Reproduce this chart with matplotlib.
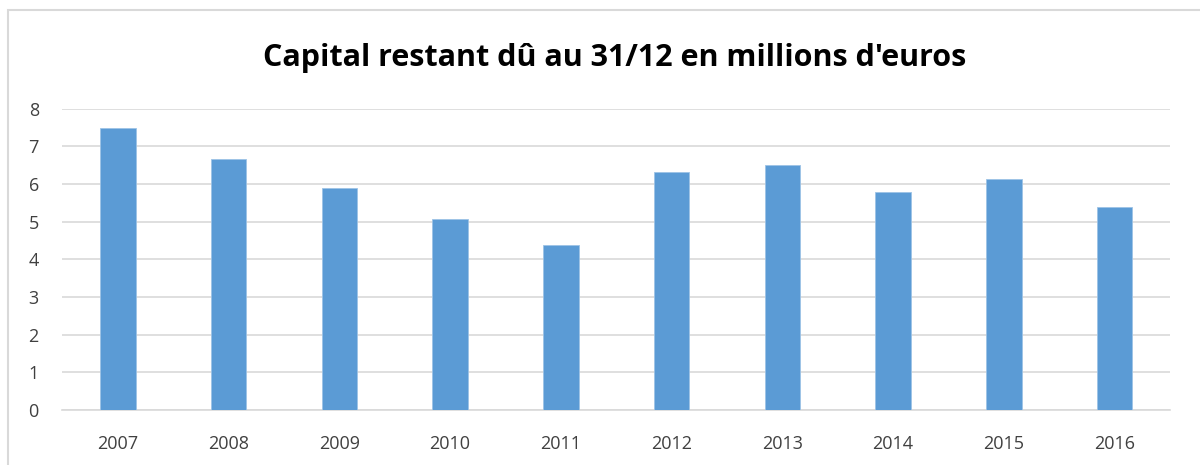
import matplotlib
matplotlib.use("Agg")
from matplotlib import pyplot as plt
from matplotlib.patches import Rectangle
import numpy as np

years = ['2007', '2008', '2009', '2010', '2011', '2012', '2013', '2014', '2015', '2016']
capital = [7.5, 6.68, 5.89, 5.08, 4.38, 6.31, 6.51, 5.79, 6.14, 5.38]

plt.rcParams['font.family'] = ['Open Sans', 'DejaVu Sans']

fig = plt.figure(figsize=(12, 4.65), dpi=100)
ax = fig.add_axes([0.052, 0.118, 0.923, 0.648])

# chart frame (Excel style)
fig.patches.append(Rectangle((0.007, -0.01), 1.0, 0.988, transform=fig.transFigure,
                             fill=False, edgecolor='#d9d9d9', linewidth=1.5))

x = np.arange(len(years))
ax.bar(x, capital, width=0.32, color='#5b9bd5', edgecolor='#9dc3e6', linewidth=0.6, zorder=3)

ax.set_xlim(-0.5, len(years) - 0.5)
ax.set_ylim(0, 8)
ax.set_yticks(range(0, 9))
ax.set_xticks(x)
ax.set_xticklabels(years)
ax.grid(axis='y', color='#d9d9d9', linewidth=1.2, zorder=0)
ax.tick_params(axis='both', length=0, labelsize=13, labelcolor='#404040')
ax.tick_params(axis='x', pad=18)
ax.tick_params(axis='y', pad=17)
for s in ['top', 'right', 'left']:
    ax.spines[s].set_visible(False)
ax.spines['bottom'].set_color('#d9d9d9')
ax.spines['bottom'].set_linewidth(1.2)

fig.text(0.512, 0.876, "Capital restant dû au 31/12 en millions d'euros",
         ha='center', va='center', fontsize=22, fontweight='bold', color='black')

fig.savefig('out.png', dpi=100, facecolor='white')
